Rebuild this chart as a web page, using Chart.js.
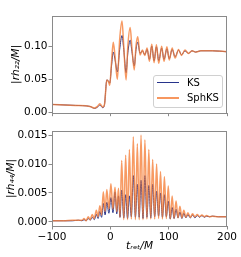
<!DOCTYPE html>
<html><head><meta charset="utf-8">
<script src="https://cdn.jsdelivr.net/npm/chart.js@4"></script>
<style>
html,body{margin:0;padding:0;background:#fff;}
#wrap{position:relative;width:241px;height:257px;overflow:hidden;}
#c1{position:absolute;left:0;top:0;}
#c2{position:absolute;left:0;top:120px;}
#legend{position:absolute;left:153px;top:75px;width:70px;height:33px;border:1px solid #d0d0d0;border-radius:3px;background:rgba(255,255,255,0.85);box-sizing:border-box;font:10px 'DejaVu Sans',sans-serif;color:#000;}
.row{position:absolute;left:0;height:12px;line-height:12px;}
.sw{position:absolute;left:3px;width:22px;}
.lb{position:absolute;left:33px;top:0;white-space:nowrap;}
</style>
</head><body>
<div id="wrap">
<canvas id="c1" width="241" height="120"></canvas>
<canvas id="c2" width="241" height="137"></canvas>
<div id="legend">
  <div class="row" style="top:1px;"><div class="sw" style="top:5px;height:1.3px;background:#27348b;"></div><div class="lb">KS</div></div>
  <div class="row" style="top:16px;"><div class="sw" style="top:5px;height:2px;background:rgba(245,125,55,0.8);"></div><div class="lb">SphKS</div></div>
</div>
</div>
<script>
// top panel: |r h22 / M|
const tTop = [-100,-60,-35,-27,-22,-18,-13,-10,-6,-3,-1,2,5,8,12,16,20,23,27,30,34,37,41,44,47,51,55,59,63,67,71,75,79,83,88,92,97,101,106,111,117,122,128,134,140,146,155,175,200];
const ksTop = [0.012,0.0105,0.009,0.006,0.008,0.011,0.007,0.012,0.049,0.047,0.044,0.07,0.091,0.08,0.061,0.095,0.116,0.095,0.06,0.09,0.109,0.092,0.07,0.095,0.106,0.089,0.093,0.087,0.095,0.08,0.1,0.078,0.099,0.078,0.097,0.08,0.096,0.081,0.095,0.084,0.094,0.087,0.093,0.089,0.093,0.091,0.093,0.093,0.0915];
const sphTop = [0.012,0.0105,0.009,0.0065,0.009,0.013,0.008,0.012,0.049,0.046,0.041,0.075,0.106,0.085,0.05,0.11,0.138,0.1,0.049,0.1,0.128,0.098,0.064,0.1,0.114,0.0865,0.094,0.086,0.097,0.077,0.103,0.075,0.102,0.074,0.1,0.077,0.099,0.079,0.097,0.082,0.095,0.086,0.094,0.089,0.093,0.091,0.093,0.093,0.0915];
// bottom panel: |r h44 / M|
const tBot = [-100,-80,-65,-55,-48.5,-45,-41.5,-38,-34.5,-31,-27.5,-24,-21,-18,-15,-12,-9,-6,-2.5,1,4.5,8,11,14,16.5,19.5,23,26.3,29.5,32.7,36,39.4,43,46.3,49.5,52.6,56,59.3,62.7,66,69.3,72.6,76,79.3,82.7,86,89.3,92.7,96,99.3,102.7,106,109.3,112.7,116,119.3,122.7,126,129.5,133,137,141,145,149,153,157,161,165,170,175,185,200];
const ksBot = [0.0002,0.0002,0.0002,0.0003,0.0002,0.0004,0.0002,0.0006,0.0003,0.0008,0.0004,0.0013,0.0006,0.0018,0.0008,0.0032,0.0012,0.0034,0.0015,0.0042,0.0016,0.0052,0.0014,0.0045,0.0008,0.0055,0.0007,0.0047,0.0006,0.0045,0.0009,0.008,0.0008,0.0065,0.0008,0.0072,0.0006,0.008,0.0008,0.0063,0.0007,0.0065,0.0009,0.0053,0.001,0.005,0.0008,0.0047,0.0009,0.0036,0.0005,0.0025,0.0006,0.0022,0.0007,0.0017,0.0006,0.0015,0.0007,0.0013,0.0007,0.0012,0.0007,0.0011,0.0008,0.0011,0.0008,0.001,0.0009,0.001,0.0009,0.0009];
const sphBot = [0.0002,0.0002,0.0003,0.0003,0.0003,0.0006,0.0002,0.0009,0.0004,0.0013,0.0006,0.002,0.0009,0.0028,0.0012,0.0052,0.0018,0.0056,0.0022,0.0066,0.0022,0.006,0.0018,0.0058,0.0008,0.0106,0.0004,0.0115,0.0004,0.0125,0.0005,0.0147,0.0004,0.0135,0.0004,0.015,0.0004,0.0142,0.0005,0.0125,0.0005,0.0108,0.0005,0.01,0.0006,0.0087,0.0005,0.0078,0.0006,0.0062,0.0005,0.0045,0.0006,0.0036,0.0007,0.0027,0.0007,0.002,0.0008,0.0016,0.0008,0.0014,0.0009,0.0013,0.0009,0.0012,0.0009,0.0011,0.0009,0.001,0.0009,0.0009];
const seriesNames = ['KS','SphKS'];
const xTicks = [-100,0,100,200];

const KS_COL = '#27348b';
const SPH_COL = 'rgba(245,125,55,0.78)';
const FRAME = '#8a8a8a';
const FONT = "'DejaVu Sans', sans-serif";

const pts = (t, v) => t.map((x, i) => ({x: x, y: v[i]}));

const frame = {
  id: 'frame',
  afterDatasetsDraw(chart) {
    const a = chart.chartArea, c = chart.ctx;
    c.save();
    c.strokeStyle = FRAME; c.lineWidth = 1;
    c.strokeRect(Math.round(a.left) + 0.5, Math.round(a.top) + 0.5, Math.round(a.right - a.left) - 1, Math.round(a.bottom - a.top));
    c.restore();
  }
};

function makeChart(id, t, ks, sph, o) {
  return new Chart(document.getElementById(id), {
    type: 'line',
    data: {
      datasets: [
        {label: seriesNames[1], data: pts(t, sph), borderColor: SPH_COL, borderWidth: 1.5, pointRadius: 0, cubicInterpolationMode: 'monotone', fill: false},
        {label: seriesNames[0], data: pts(t, ks), borderColor: KS_COL, borderWidth: 1, pointRadius: 0, cubicInterpolationMode: 'monotone', fill: false}
      ]
    },
    plugins: [frame],
    options: {
      responsive: false, animation: false, devicePixelRatio: 1,
      layout: {padding: {left: 0, right: 14, top: o.padTop, bottom: 0}},
      plugins: {legend: {display: false}, tooltip: {enabled: false}},
      scales: {
        x: {
          type: 'linear', min: -100, max: 200,
          afterBuildTicks: s => { s.ticks = xTicks.map(v => ({value: v})); },
          border: {display: false},
          grid: {drawOnChartArea: false, drawTicks: true, tickLength: 3.5, tickColor: FRAME, color: FRAME},
          ticks: {display: o.xLabels, color: '#000', font: {family: FONT, size: 10.5}, padding: 1, maxRotation: 0,
                  callback: v => v < 0 ? '\u2212' + Math.abs(v) : String(v)},
          title: {display: o.xLabels, text: 't\u1D63\u2091\u209C/M', color: '#000', font: {family: FONT, size: 10.5, style: 'italic'}, padding: {top: 0, bottom: 4}},
          afterFit: s => { s.height = o.xH; }
        },
        y: {
          type: 'linear', min: o.ymin, max: o.ymax,
          ticks: {stepSize: o.step, includeBounds: false, color: '#000', font: {family: FONT, size: 10.5}, padding: 1,
                  callback: v => v.toFixed(o.dec)},
          border: {display: false},
          grid: {drawOnChartArea: false, drawTicks: true, tickLength: 3.5, tickColor: FRAME, color: FRAME},
          title: {display: true, text: o.ytitle, color: '#000', font: {family: FONT, size: 10.5, style: 'italic'}, padding: {top: o.yTitlePad, bottom: 0}},
          afterFit: s => { s.width = 52; }
        }
      }
    }
  });
}

makeChart('c1', tTop, ksTop, sphTop, {padTop: 16, xLabels: false, xH: 7.3, ymin: -0.0005, ymax: 0.1455, step: 0.05, dec: 2, ytitle: '|rh\u2082\u2082/M|', yTitlePad: 9.5});
makeChart('c2', tBot, ksBot, sphBot, {padTop: 11, xLabels: true, xH: 31, ymin: -0.0007, ymax: 0.0157, step: 0.005, dec: 3, ytitle: '|rh\u2084\u2084/M|', yTitlePad: 5});
</script>
</body></html>
